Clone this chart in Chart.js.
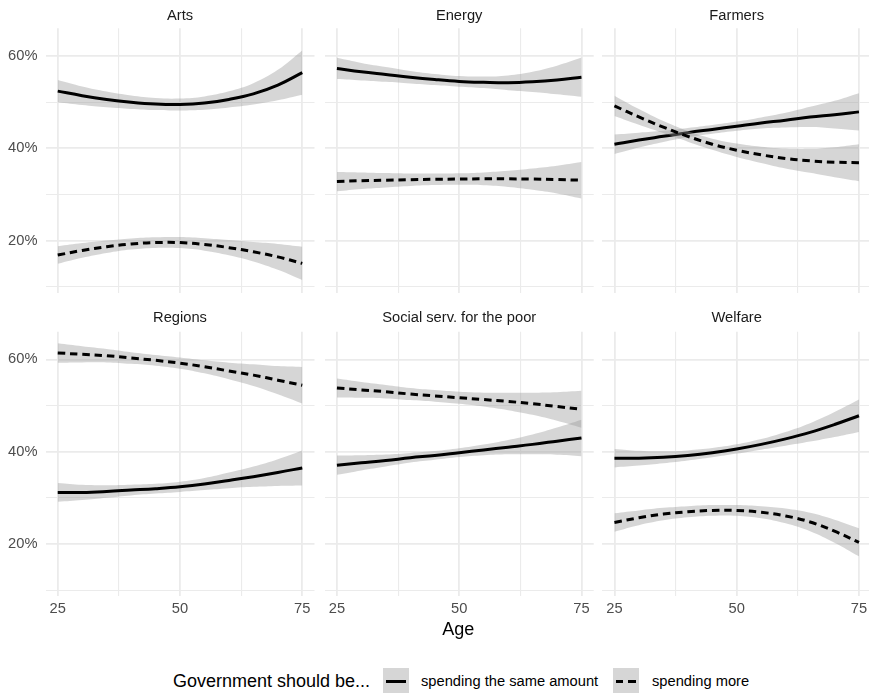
<!DOCTYPE html>
<html>
<head>
<meta charset="utf-8">
<script src="https://cdn.jsdelivr.net/npm/chart.js@4/dist/chart.umd.min.js"></script>
<style>
  html, body { margin: 0; padding: 0; background: #fff; }
  body { width: 869px; height: 693px; position: relative; overflow: hidden;
         font-family: "Liberation Sans", Arial, Helvetica, sans-serif; }
  canvas { position: absolute; }
  .strip { position: absolute; text-align: center; font-size: 14.7px; line-height: 18px; color: #1a1a1a; white-space: nowrap; }
  .axis-title { position: absolute; font-size: 18px; line-height: 22px; color: #000; white-space: nowrap; transform: translateX(-50%); }
  .legend-text { position: absolute; white-space: nowrap; color: #000; }
  .key { position: absolute; width: 26px; height: 26px; background: #d6d6d6; }
  .key > div { position: absolute; left: 2.6px; width: 20.8px; top: 11.5px; height: 3px; }
</style>
</head>
<body>
<script>
// ---- data -------------------------------------------------------------
const ages = [25, 30, 35, 40, 45, 50, 55, 60, 65, 70, 75];
const facetNames = ['Arts', 'Energy', 'Farmers', 'Regions', 'Social serv. for the poor', 'Welfare'];
const legendTitle = 'Government should be...';
const seriesNames = ['spending the same amount', 'spending more'];
const xTicks = [25, 37.5, 50, 62.5, 75];
const xLabelTicks = [25, 50, 75];
const yTicks = [10, 20, 30, 40, 50, 60];
const yLabelTicks = [20, 40, 60];
const xTitle = 'Age';

// fitted share (%) and half-width of its confidence band, per policy area
const artsSame     = [52.4, 51.4, 50.6, 50.0, 49.6, 49.5, 49.8, 50.6, 51.8, 53.7, 56.4];
const artsSameCI   = [2.4, 2.0, 1.7, 1.45, 1.3, 1.3, 1.45, 1.75, 2.3, 3.3, 4.8];
const artsMore     = [16.9, 17.9, 18.7, 19.3, 19.6, 19.6, 19.2, 18.5, 17.6, 16.5, 15.1];
const artsMoreCI   = [1.9, 1.6, 1.35, 1.2, 1.15, 1.2, 1.35, 1.65, 2.1, 2.8, 3.6];

const energySame   = [57.3, 56.6, 56.0, 55.4, 54.9, 54.5, 54.3, 54.2, 54.4, 54.8, 55.4];
const energySameCI = [2.3, 1.9, 1.6, 1.35, 1.2, 1.15, 1.25, 1.6, 2.2, 3.1, 4.25];
const energyMore   = [32.8, 33.0, 33.1, 33.2, 33.3, 33.35, 33.4, 33.4, 33.35, 33.25, 33.1];
const energyMoreCI = [2.1, 1.8, 1.55, 1.35, 1.25, 1.25, 1.4, 1.75, 2.3, 3.0, 3.95];

const farmersSame   = [40.9, 41.8, 42.6, 43.4, 44.1, 44.8, 45.5, 46.1, 46.8, 47.3, 47.9];
const farmersSameCI = [2.1, 1.6, 1.2, 1.0, 0.95, 1.0, 1.2, 1.6, 2.2, 3.0, 4.05];
const farmersMore   = [49.2, 46.8, 44.6, 42.6, 40.9, 39.6, 38.6, 37.8, 37.3, 37.0, 36.9];
const farmersMoreCI = [2.2, 1.7, 1.3, 1.15, 1.2, 1.45, 1.75, 2.15, 2.6, 3.25, 4.0];

const regionsSame   = [31.2, 31.2, 31.4, 31.7, 32.0, 32.4, 33.0, 33.8, 34.6, 35.5, 36.5];
const regionsSameCI = [2.05, 1.65, 1.35, 1.15, 1.05, 1.1, 1.3, 1.7, 2.2, 2.9, 3.8];
const regionsMore   = [61.4, 61.1, 60.8, 60.3, 59.8, 59.2, 58.4, 57.5, 56.6, 55.5, 54.4];
const regionsMoreCI = [2.1, 1.75, 1.45, 1.25, 1.15, 1.2, 1.4, 1.8, 2.35, 3.05, 3.95];

const socialSame   = [37.1, 37.6, 38.1, 38.7, 39.2, 39.8, 40.4, 41.0, 41.6, 42.3, 43.0];
const socialSameCI = [2.1, 1.65, 1.3, 1.05, 0.95, 0.95, 1.15, 1.55, 2.15, 2.95, 3.95];
const socialMore   = [53.8, 53.4, 53.0, 52.5, 52.1, 51.7, 51.3, 50.9, 50.4, 49.8, 49.2];
const socialMoreCI = [2.05, 1.7, 1.45, 1.3, 1.25, 1.3, 1.5, 1.9, 2.4, 3.1, 4.0];

const welfareSame   = [38.6, 38.6, 38.8, 39.2, 39.8, 40.6, 41.6, 42.8, 44.2, 45.9, 47.8];
const welfareSameCI = [2.0, 1.6, 1.3, 1.1, 1.0, 1.0, 1.15, 1.5, 2.0, 2.7, 3.5];
const welfareMore   = [24.7, 25.7, 26.5, 27.0, 27.3, 27.3, 26.9, 26.1, 24.8, 22.8, 20.4];
const welfareMoreCI = [2.0, 1.6, 1.35, 1.2, 1.15, 1.15, 1.3, 1.6, 2.0, 2.5, 3.05];

const facets = [
  [artsSame, artsSameCI, artsMore, artsMoreCI],
  [energySame, energySameCI, energyMore, energyMoreCI],
  [farmersSame, farmersSameCI, farmersMore, farmersMoreCI],
  [regionsSame, regionsSameCI, regionsMore, regionsMoreCI],
  [socialSame, socialSameCI, socialMore, socialMoreCI],
  [welfareSame, welfareSameCI, welfareMore, welfareMoreCI]
];

// ---- layout & style ------------------------------------------------------
const FONT = '"Liberation Sans", Arial, Helvetica, sans-serif';
const PANEL_W = 269, PANEL_H = 264.6;
const colLeft = [45.5, 324.7, 602.2];
const rowTop = [28.3, 331.7];
const RIBBON = 'rgba(153,153,153,0.4)';
const GRID = '#ebebeb';
const DASH = [7.5, 4.8];

function points(vals) { return ages.map((a, i) => ({ x: a, y: vals[i] })); }
function bandEdge(vals, ci, sign) { return ages.map((a, i) => ({ x: a, y: vals[i] + sign * ci[i] })); }

function ribbonEdge(data, fill) {
  return { data, fill, backgroundColor: RIBBON, borderColor: 'rgba(0,0,0,0)', borderWidth: 0,
           pointRadius: 0, pointHoverRadius: 0, tension: 0.4 };
}
function fitLine(data, dash) {
  return { data, fill: false, borderColor: '#000', borderWidth: 3, borderDash: dash,
           borderCapStyle: 'butt', pointRadius: 0, pointHoverRadius: 0, tension: 0.4 };
}

facets.forEach((f, k) => {
  const [same, sameCI, more, moreCI] = f;
  const col = k % 3, row = Math.floor(k / 3);
  const panelL = colLeft[col], panelT = rowTop[row];
  const yw = col === 0 ? 40 : 0;
  const xh = row === 1 ? 32 : 0;

  const canvasL = Math.floor(panelL - yw - 20);
  const canvasT = Math.floor(panelT - 20);
  const padL = panelL - yw - canvasL;
  const padT = panelT - canvasT;
  const canvasW = Math.ceil(padL + yw + PANEL_W + 20);
  const canvasH = Math.ceil(padT + PANEL_H + xh + 20);
  const padR = canvasW - padL - yw - PANEL_W;
  const padB = canvasH - padT - PANEL_H - xh;

  const cv = document.createElement('canvas');
  cv.width = canvasW; cv.height = canvasH;
  cv.style.left = canvasL + 'px'; cv.style.top = canvasT + 'px';
  cv.style.width = canvasW + 'px'; cv.style.height = canvasH + 'px';
  document.body.appendChild(cv);

  // group order: "same" ribbon + line underneath, "more" ribbon + line on top
  const datasets = [
    fitLine(points(more), DASH),
    ribbonEdge(bandEdge(more, moreCI, 1), '+1'),
    ribbonEdge(bandEdge(more, moreCI, -1), false),
    fitLine(points(same), []),
    ribbonEdge(bandEdge(same, sameCI, 1), '+1'),
    ribbonEdge(bandEdge(same, sameCI, -1), false)
  ];

  new Chart(cv.getContext('2d'), {
    type: 'line',
    data: { datasets },
    options: {
      responsive: false, animation: false, devicePixelRatio: 1, events: [],
      layout: { padding: { left: padL, right: padR, top: padT, bottom: padB } },
      plugins: { legend: { display: false }, tooltip: { enabled: false }, title: { display: false } },
      scales: {
        x: {
          type: 'linear', min: 22.5, max: 77.5,
          afterBuildTicks: s => { s.ticks = xTicks.map(v => ({ value: v })); },
          afterFit: s => { s.height = xh; },
          grid: { color: GRID, drawTicks: false,
                  lineWidth: c => (c.tick && xLabelTicks.includes(c.tick.value)) ? 1.8 : 1.1 },
          border: { display: false },
          ticks: { display: row === 1, autoSkip: false, maxRotation: 0, padding: 4,
                   color: '#4d4d4d', font: { family: FONT, size: 14.7 },
                   callback: v => xLabelTicks.includes(v) ? String(v) : '' }
        },
        y: {
          type: 'linear', min: 8.7, max: 66,
          afterBuildTicks: s => { s.ticks = yTicks.map(v => ({ value: v })); },
          afterFit: s => { s.width = yw; },
          grid: { color: GRID, drawTicks: false,
                  lineWidth: c => (c.tick && yLabelTicks.includes(c.tick.value)) ? 1.8 : 1.1 },
          border: { display: false },
          ticks: { display: col === 0, autoSkip: false, padding: 8,
                   color: '#4d4d4d', font: { family: FONT, size: 14.7 },
                   callback: v => yLabelTicks.includes(v) ? v + '%' : '' }
        }
      }
    }
  });

  const strip = document.createElement('div');
  strip.className = 'strip';
  strip.textContent = facetNames[k];
  strip.style.left = panelL + 'px';
  strip.style.width = PANEL_W + 'px';
  strip.style.top = (row === 0 ? 6 : 307.7) + 'px';
  document.body.appendChild(strip);
});

// shared x-axis title
const xt = document.createElement('div');
xt.className = 'axis-title';
xt.textContent = xTitle;
xt.style.left = '458.3px';
xt.style.top = '618.3px';
document.body.appendChild(xt);

// legend
function addText(txt, left, size, lh, top) {
  const d = document.createElement('div');
  d.className = 'legend-text';
  d.textContent = txt;
  d.style.left = left + 'px';
  d.style.top = top + 'px';
  d.style.fontSize = size + 'px';
  d.style.lineHeight = lh + 'px';
  document.body.appendChild(d);
}
function addKey(left, dashed) {
  const k = document.createElement('div');
  k.className = 'key';
  k.style.left = left + 'px';
  k.style.top = '668px';
  const ln = document.createElement('div');
  ln.style.background = dashed
    ? 'repeating-linear-gradient(to right, #000 0 7.5px, transparent 7.5px 12.3px)'
    : '#000';
  k.appendChild(ln);
  document.body.appendChild(k);
}
addText(legendTitle, 173, 18, 22, 670);
addKey(383, false);
addText(seriesNames[0], 421, 14.7, 18, 672);
addKey(613, true);
addText(seriesNames[1], 652, 14.7, 18, 672);
</script>
</body>
</html>
